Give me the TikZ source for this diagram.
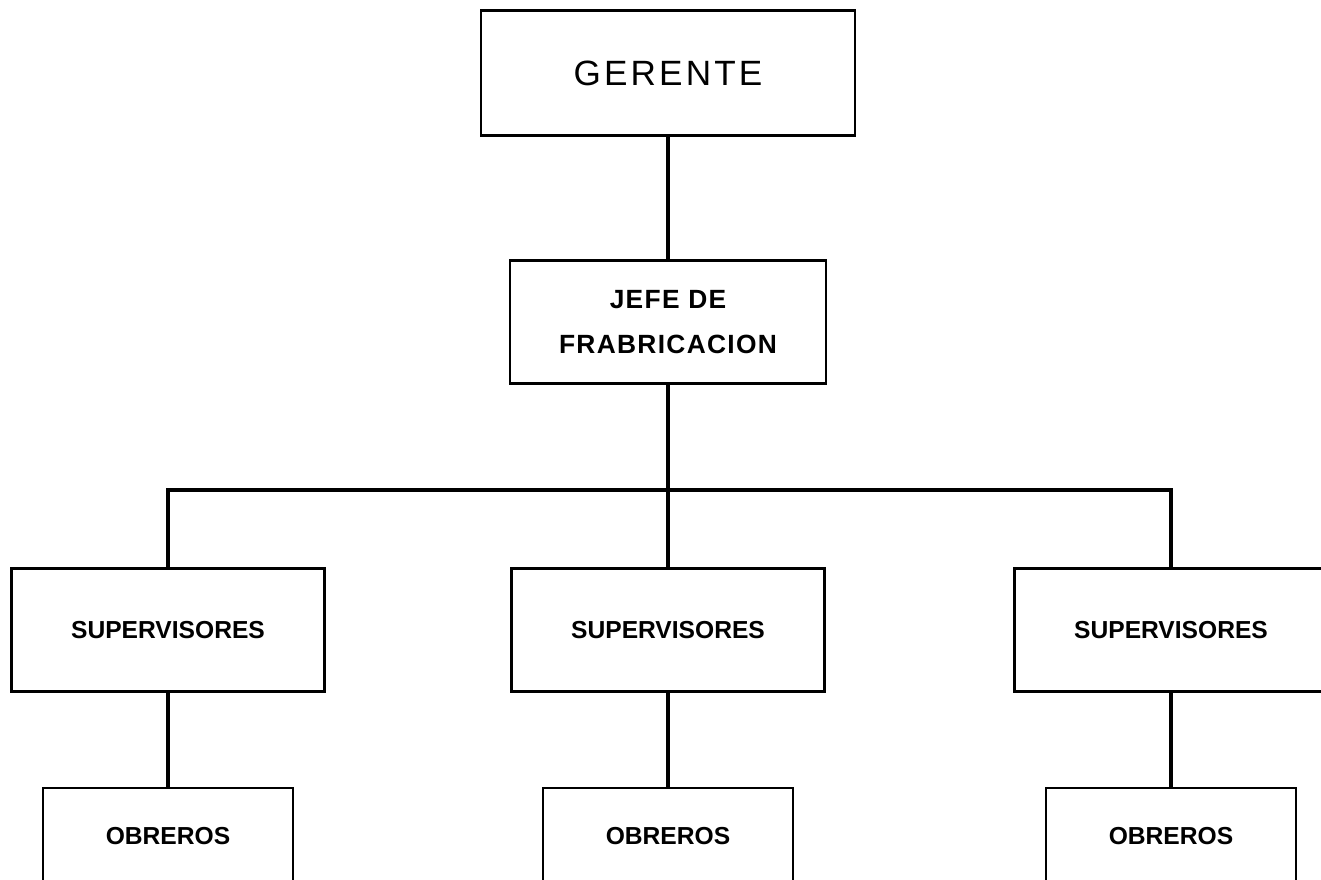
\documentclass[tikz,border=0pt]{standalone}
\usepackage{fontspec}
\setmainfont{Liberation Sans}
\newfontfamily\spacedfont[LetterSpace=9]{Liberation Sans}
\newfontfamily\jefefont[LetterSpace=5]{Liberation Sans}
\tikzset{cargo/.style={draw, line width=1.5pt, inner sep=0, align=center, fill=white}}
\tikzset{linea/.style={line width=1.8pt}}
\tikzset{supbox/.style={cargo, minimum width=6.25cm, minimum height=2.46cm, font=\fontsize{14}{16}\selectfont\bfseries}}
\tikzset{obrbox/.style={cargo, minimum width=5cm, minimum height=1.92cm, font=\fontsize{14}{16}\selectfont\bfseries}}

\begin{document}
\begin{tikzpicture}[x=0.02cm,y=-0.02cm]
\useasboundingbox (0,0) rectangle (1321,879);
\clip (0,0) rectangle (1321,879);
\fill[white] (0,0) rectangle (1321,879);
\coordinate (bar) at (0,490);
\node[cargo, minimum width=7.48cm, minimum height=2.5cm, font=\fontsize{20}{24}\selectfont\spacedfont] (gerente) at (668,73) {GERENTE};
\node[cargo, minimum width=6.32cm, minimum height=2.46cm, font=\fontsize{15}{25.5}\selectfont\jefefont\bfseries] (jefe) at (668,322) {JEFE DE\\FRABRICACION};
\node[supbox] (sup1) at (168,630) {SUPERVISORES};
\node[supbox] (sup2) at (668,630) {SUPERVISORES};
\node[supbox] (sup3) at (1171,630) {SUPERVISORES};
\node[obrbox] (obr1) at (168,836) {OBREROS};
\node[obrbox] (obr2) at (668,836) {OBREROS};
\node[obrbox] (obr3) at (1171,836) {OBREROS};
\draw[linea] (gerente) -- (jefe);
\draw[linea] (jefe) -- (sup2);
\draw[linea] (sup1.north) -- (sup1.north |- bar) -- (sup3.north |- bar) -- (sup3.north);
\draw[linea] (sup1) -- (obr1);
\draw[linea] (sup2) -- (obr2);
\draw[linea] (sup3) -- (obr3);
\end{tikzpicture}
\end{document}
